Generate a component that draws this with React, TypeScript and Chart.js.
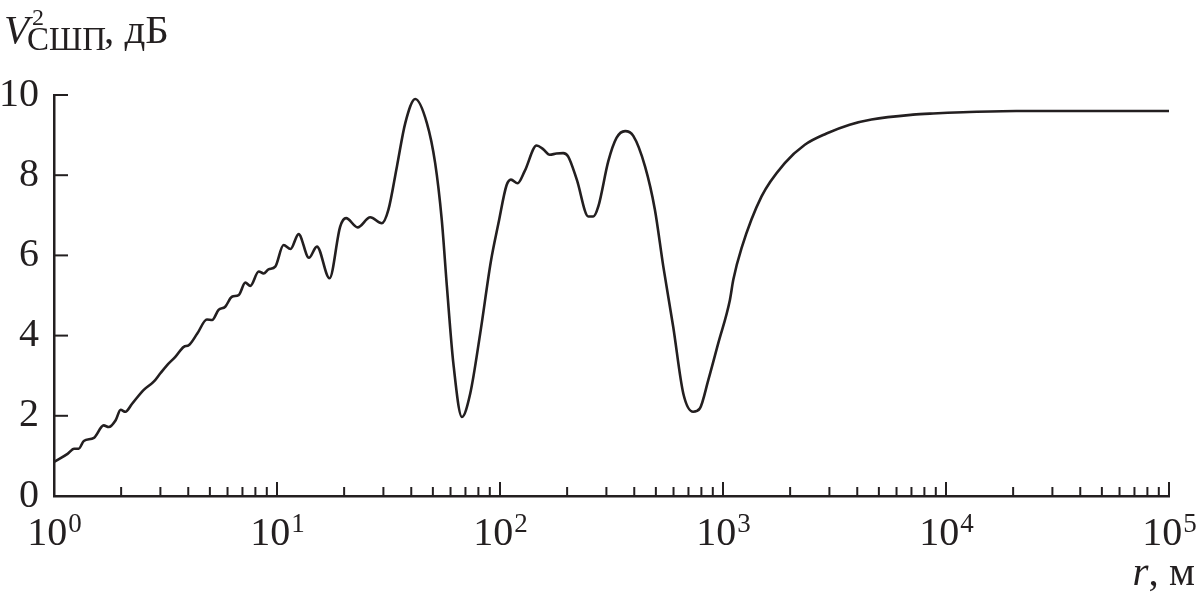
import React, { useEffect, useRef } from "react";
import { Chart, registerables } from "chart.js";

Chart.register(...registerables);

// distance r, m
const rValues = [
  1, 1.15, 1.23, 1.29, 1.36, 1.51, 1.67, 1.76, 1.89, 1.99, 2.09, 2.24, 2.52, 2.8, 3.0, 3.21,
  3.5, 3.82, 4.02, 4.39, 4.85, 5.12, 5.47, 5.86, 6.28, 6.73, 7.21, 7.59, 8.28, 8.71, 9.16, 9.82,
  10.7, 11.5, 12.5, 13.9, 15.1, 17.2, 19.2, 20.4, 23.0, 26.2, 29.5, 31.6, 34.5, 37.6, 41.7,
  47.0, 51.2, 54.8, 57.8, 61.8, 67.5, 73.5, 81.5, 91, 98.4, 107, 112, 120, 129, 146, 156, 167,
  179, 192, 202, 221, 249, 262, 276, 306, 333, 364, 396, 447, 495, 540, 598, 664, 735, 787,
  859, 951, 1074, 1112, 1211, 1489, 1892, 2328, 2911, 3698, 4634, 7112, 8750, 11912, 20654,
  79070, 100000,
];

// V^2 (UWB), dB
const vValues = [
  0.85, 1.05, 1.18, 1.18, 1.37, 1.45, 1.76, 1.72, 1.89, 2.15, 2.1, 2.3, 2.64, 2.85, 3.06, 3.26,
  3.47, 3.72, 3.76, 4.05, 4.4, 4.39, 4.64, 4.72, 4.97, 5.01, 5.32, 5.24, 5.6, 5.55, 5.65, 5.72,
  6.26, 6.16, 6.53, 5.94, 6.22, 5.43, 6.72, 6.93, 6.7, 6.95, 6.8, 7.14, 8.22, 9.3, 9.9,
  9.3, 8.3, 6.89, 5.22, 3.3, 1.97, 2.55, 4.05, 5.85, 6.8, 7.75, 7.89, 7.8, 8.1, 8.74, 8.65, 8.51,
  8.54, 8.55, 8.47, 7.89, 6.97, 6.97, 7.22, 8.35, 8.93, 9.1, 8.98, 8.22, 7.14, 5.72, 4.22, 2.55, 2.1, 2.18,
  2.89, 3.8, 4.89, 5.39, 6.18, 7.47, 8.3, 8.76, 9.04, 9.26, 9.39, 9.51, 9.54, 9.57, 9.6,
  9.6, 9.6,
];

const yTickValues = [0, 2, 4, 6, 8, 10];
const xDecadeExponents = [0, 1, 2, 3, 4, 5];
const xDecadeBase = "10";
const xMinorMultipliers = [2, 3, 4, 5, 6, 7, 8, 9];

const yTitleMain = "V";
const yTitleSup = "2";
const yTitleSub = "СШП";
const yTitleUnit = ", дБ";
const xTitleMain = "r";
const xTitleUnit = ", м";

const INK = "#231f20";
const SERIF = '"Liberation Serif"';

const decorPlugin = {
  id: "decor",
  afterDraw(chart: any) {
    const ctx: CanvasRenderingContext2D = chart.ctx;
    const xs = chart.scales.x;
    const ys = chart.scales.y;
    const { left, bottom } = chart.chartArea;
    ctx.save();
    ctx.strokeStyle = INK;
    ctx.fillStyle = INK;
    ctx.lineWidth = 2;
    ctx.lineCap = "butt";

    // inner y ticks
    yTickValues.forEach((v) => {
      if (v === 0) return;
      const y = ys.getPixelForValue(v);
      ctx.beginPath();
      ctx.moveTo(left, y);
      ctx.lineTo(left + 14, y);
      ctx.stroke();
    });

    // inner x ticks
    xDecadeExponents.forEach((e) => {
      const base = Math.pow(10, e);
      const major = xs.getPixelForValue(base);
      if (e > 0) {
        ctx.beginPath();
        ctx.moveTo(major, bottom);
        ctx.lineTo(major, bottom - 14);
        ctx.stroke();
      }
      if (e < 5) {
        xMinorMultipliers.forEach((m) => {
          const px = xs.getPixelForValue(m * base);
          ctx.beginPath();
          ctx.moveTo(px, bottom);
          ctx.lineTo(px, bottom - 9);
          ctx.stroke();
        });
      }
    });

    // x tick labels 10^n
    ctx.textBaseline = "alphabetic";
    ctx.textAlign = "left";
    xDecadeExponents.forEach((e) => {
      const px = xs.getPixelForValue(Math.pow(10, e));
      ctx.font = `40px ${SERIF}`;
      const w1 = ctx.measureText(xDecadeBase).width;
      ctx.font = `27px ${SERIF}`;
      const w2 = ctx.measureText(String(e)).width;
      const x0 = px - (w1 + w2) / 2;
      ctx.font = `40px ${SERIF}`;
      ctx.fillText(xDecadeBase, x0, 545);
      ctx.font = `27px ${SERIF}`;
      ctx.fillText(String(e), x0 + w1 + 1, 532);
    });

    // y title
    ctx.font = `italic 41px ${SERIF}`;
    ctx.fillText(yTitleMain, 4, 43);
    ctx.font = `24px ${SERIF}`;
    ctx.fillText(yTitleSup, 32, 25);
    ctx.font = `33px ${SERIF}`;
    ctx.fillText(yTitleSub, 27, 50);
    ctx.font = `41px ${SERIF}`;
    ctx.fillText(yTitleUnit, 104, 43);

    // x title
    ctx.font = `italic 41px ${SERIF}`;
    const wr = ctx.measureText(xTitleMain).width;
    ctx.font = `41px ${SERIF}`;
    const wu = ctx.measureText(xTitleUnit).width;
    const xs0 = 1195 - wr - wu;
    ctx.font = `italic 41px ${SERIF}`;
    ctx.fillText(xTitleMain, xs0, 585);
    ctx.font = `41px ${SERIF}`;
    ctx.fillText(xTitleUnit, xs0 + wr, 585);

    ctx.restore();
  },
};

export default function App() {
  const canvasRef = useRef<HTMLCanvasElement | null>(null);

  useEffect(() => {
    if (!canvasRef.current) return;
    const chart = new Chart(canvasRef.current, {
      type: "line",
      data: {
        datasets: [
          {
            data: rValues.map((r, i) => ({ x: r, y: vValues[i] })),
            borderColor: INK,
            borderWidth: 2.6,
            pointRadius: 0,
            fill: false,
            cubicInterpolationMode: "monotone",
          },
        ],
      },
      options: {
        animation: false,
        responsive: true,
        maintainAspectRatio: false,
        layout: { padding: { top: 95, right: 27, left: 0, bottom: 0 } },
        plugins: {
          legend: { display: false },
          tooltip: { enabled: false },
          title: { display: false },
        },
        scales: {
          x: {
            type: "logarithmic",
            min: 1,
            max: 100000,
            grid: { display: false },
            border: { display: true, color: INK, width: 2.5 },
            ticks: { display: false },
            afterFit: (scale: any) => {
              scale.height = 110;
            },
          },
          y: {
            type: "linear",
            min: 0,
            max: 10,
            grid: { display: false, drawTicks: false },
            border: { display: true, color: INK, width: 2.5 },
            ticks: {
              stepSize: 2,
              padding: 15,
              color: INK,
              font: { family: SERIF, size: 40 },
              callback: (v: any) => (yTickValues.includes(Number(v)) ? String(v) : ""),
            },
            afterFit: (scale: any) => {
              scale.width = 54;
            },
          },
        },
      },
      plugins: [decorPlugin],
    } as any);
    return () => chart.destroy();
  }, []);

  return (
    <div
      style={{
        position: "fixed",
        left: 0,
        top: 0,
        width: 1196,
        height: 606,
        background: "#fff",
      }}
    >
      <canvas ref={canvasRef} />
    </div>
  );
}
